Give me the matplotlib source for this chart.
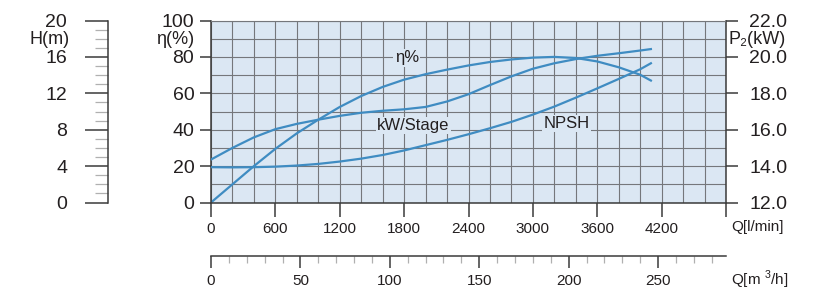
import matplotlib
matplotlib.use('Agg')
import matplotlib.pyplot as plt
from matplotlib.ticker import MultipleLocator, FormatStrFormatter

plt.rcParams['font.family'] = ['Liberation Sans', 'DejaVu Sans']
plt.rcParams['mathtext.fontset'] = 'custom'
plt.rcParams['mathtext.rm'] = 'Liberation Sans'

# flow in l/min
q = [0, 200, 400, 600, 800, 1000, 1200, 1400, 1600, 1800, 2000,
     2200, 2400, 2600, 2800, 3000, 3200, 3400, 3600, 3800, 4000, 4100]
# efficiency, %
eta = [0, 10, 20, 29.5, 38, 45.5, 52.5, 58.5, 63.5, 67.5, 70.5,
       73, 75.3, 77.2, 78.6, 79.6, 80, 79.4, 77.5, 74.3, 70.2, 67]
# power per stage, kW
p2 = [14.36, 15.0, 15.58, 16.03, 16.32, 16.55, 16.76, 16.93, 17.04, 17.12, 17.25,
      17.55, 17.95, 18.45, 18.93, 19.35, 19.65, 19.88, 20.06, 20.2, 20.35, 20.43]
# NPSH, m
npsh = [3.88, 3.86, 3.88, 3.94, 4.06, 4.24, 4.5, 4.82, 5.22, 5.72, 6.3,
        6.88, 7.5, 8.16, 8.86, 9.66, 10.54, 11.52, 12.54, 13.58, 14.64, 15.3]

q_ticks = [0, 600, 1200, 1800, 2400, 3000, 3600, 4200, 4800]
q_labels = ['0', '600', '1200', '1800', '2400', '3000', '3600', '4200', '']
m3h_ticks = [0, 50, 100, 150, 200, 250]
m3h_minor = [v for v in range(10, 290, 10) if v % 50]

txt = '#231f20'
dark = '#3b3b3b'
gridc = '#75777b'
blue = '#3f8cc2'

W, H = 826, 305
fig = plt.figure(figsize=(W / 100, H / 100), dpi=100)
ax = fig.add_axes([211 / W, 1 - 202.5 / H, 515 / W, 182 / H])
ax.set_facecolor('#dbe7f3')
ax.set_xlim(0, 4800)
ax.set_ylim(0, 100)

ax.set_xticks(q_ticks)
ax.set_xticklabels(q_labels)
ax.xaxis.set_minor_locator(MultipleLocator(200))
ax.yaxis.set_major_locator(MultipleLocator(20))
ax.yaxis.set_minor_locator(MultipleLocator(10))
ax.grid(which='both', color=gridc, lw=0.8)
ax.set_axisbelow(True)
ax.tick_params(axis='x', which='major', length=10, width=1.1, color=dark,
               labelsize=11, pad=4, labelcolor=txt)
ax.tick_params(axis='y', which='major', length=8, width=1.1, color=dark,
               labelsize=14, pad=4, labelcolor=txt)
ax.tick_params(which='minor', length=0)
for s in ['left', 'bottom', 'right']:
    ax.spines[s].set_color(dark)
    ax.spines[s].set_linewidth(1.1)
ax.spines['top'].set_color(gridc)
ax.spines['top'].set_linewidth(0.8)

ax.plot(q, eta, color=blue, lw=1.6)

# power axis on the right
ax_p = ax.twinx()
ax_p.set_ylim(12, 22)
ax_p.yaxis.set_major_locator(MultipleLocator(2))
ax_p.yaxis.set_major_formatter(FormatStrFormatter('%.1f'))
ax_p.tick_params(axis='y', length=8.6, width=1.1, color=dark, labelsize=14,
                 pad=8, labelcolor=txt)
for s in ax_p.spines.values():
    s.set_visible(False)
ax_p.plot(q, p2, color=blue, lw=1.6)

# head / NPSH axis, far left
ax_h = ax.twinx()
ax_h.set_ylim(0, 20)
ax_h.yaxis.tick_left()
ax_h.spines['left'].set_position(('axes', -103 / 515))
for s in ['top', 'bottom', 'right']:
    ax_h.spines[s].set_visible(False)
ax_h.spines['left'].set_color(dark)
ax_h.spines['left'].set_linewidth(1.1)
ax_h.yaxis.set_major_locator(MultipleLocator(4))
ax_h.yaxis.set_minor_locator(MultipleLocator(1))
ax_h.tick_params(axis='y', which='major', length=16.5, width=1.1, color=dark,
                 labelsize=14, pad=13, labelcolor=txt)
ax_h.tick_params(axis='y', which='minor', length=9.5, width=0.9, color='#b0b0b0')
ax_h.plot(q, npsh, color=blue, lw=1.6)

# second flow axis, m3/h
ax_m = ax.secondary_xaxis(-53 / 182, functions=(lambda v: v * 0.06, lambda v: v / 0.06))
ax_m.set_xticks(m3h_ticks)
ax_m.set_xticks(m3h_minor, minor=True)
ax_m.tick_params(which='major', length=8.3, width=1.1, color=dark,
                 labelsize=11, pad=5, labelcolor=txt)
ax_m.tick_params(which='minor', length=5, width=0.9, color='#b0b0b0')
ax_m.spines['bottom'].set_color(dark)
ax_m.spines['bottom'].set_linewidth(1.1)

# curve labels
box = dict(facecolor='#dbe7f3', edgecolor='none', pad=1)
ax.text(1825, 79.5, 'η%', fontsize=12, ha='center', va='center', color=txt, bbox=box)
ax.text(1886, 42.3, 'kW/Stage', fontsize=12, ha='center', va='center', color=txt, bbox=box)
ax.text(3315, 43.4, 'NPSH', fontsize=12, ha='center', va='center', color=txt, bbox=box)

# axis titles
fig.text(70 / W, 1 - 39 / H, 'H(m)', fontsize=13, ha='right', va='center', color=txt)
fig.text(194 / W, 1 - 39 / H, 'η(%)', fontsize=13, ha='right', va='center', color=txt)
fig.text(729 / W, 1 - 39 / H, 'P₂(kW)', fontsize=13, ha='left', va='center', color=txt)
fig.text(731 / W, 1 - 227 / H, 'Q[l/min]', fontsize=11, ha='left', va='center', color=txt)
fig.text(731 / W, 1 - 280 / H, 'Q[m $^3$/h]', fontsize=11, ha='left', va='center', color=txt)

fig.savefig('out.png', dpi=100)
